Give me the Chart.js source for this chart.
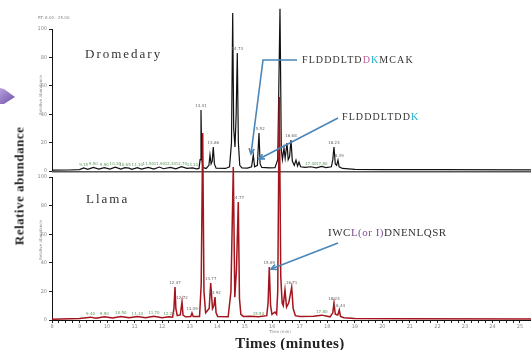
<!DOCTYPE html>
<html>
<head>
<meta charset="utf-8">
<script src="https://cdn.jsdelivr.net/npm/chart.js@4/dist/chart.umd.min.js"></script>
<style>
  html, body { margin: 0; padding: 0; background: #fff; }
  #wrap { position: relative; width: 531px; height: 350px; overflow: hidden; }
  canvas { position: absolute; left: 0; top: 0; }
  .t { position: absolute; white-space: nowrap; line-height: 1; font-family: "Liberation Serif", "DejaVu Serif", serif; color: #333; }
</style>
</head>
<body>
<div id="wrap">
  <canvas id="chrom" width="531" height="350"></canvas>
  <div class="t" style="left:85px;top:47px;font-size:13px;letter-spacing:2px;">Dromedary</div>
  <div class="t" style="left:86px;top:192px;font-size:13px;letter-spacing:2px;">Llama</div>
  <div class="t" style="left:302px;top:55px;font-size:10px;letter-spacing:1.1px;">FLDDDLTD<span style="color:#c2609a">D</span><span style="color:#22b2c8">K</span>MCAK</div>
  <div class="t" style="left:342px;top:112px;font-size:10px;letter-spacing:1.1px;">FLDDDLTDD<span style="color:#22b2c8">K</span></div>
  <div class="t" style="left:328px;top:227px;font-size:11px;letter-spacing:0.5px;">IWC<span style="color:#7d4f8f">L(or I)</span>DNENLQSR</div>
  <div class="t" style="left:19px;top:186px;font-size:13px;font-weight:bold;letter-spacing:0.5px;color:#222;transform:translate(-50%,-50%) rotate(-90deg);">Relative abundance</div>
  <div class="t" style="left:290px;top:343px;font-size:15px;font-weight:bold;letter-spacing:0.4px;color:#222;transform:translate(-50%,-50%);">Times (minutes)</div>
</div>
<script>
// retention time axis (minutes) and relative abundance axis
const timeTicks = [8, 9, 10, 11, 12, 13, 14, 15, 16, 17, 18, 19, 20, 21, 22, 23, 24, 25];
const abundTicks = [0, 10, 20, 30, 40, 50, 60, 70, 80, 90, 100];

// Dromedary trace (top, black)
const dromTime = [8.00, 8.60, 9.00, 9.15, 9.30, 9.50, 9.70, 9.90, 10.10, 10.30, 10.50, 10.65, 10.80, 10.90, 11.10, 11.25,
  11.50, 11.70, 11.90, 12.05, 12.30, 12.50,
  12.70, 12.90, 13.10, 13.25, 13.34, 13.38, 13.412, 13.44, 13.48, 13.60, 13.70, 13.739, 13.78, 13.82, 13.859, 13.90,
  13.96, 14.30, 14.45, 14.52, 14.564, 14.60, 14.647, 14.69, 14.731, 14.77, 14.82, 14.90, 15.10, 15.25, 15.312, 15.36,
  15.46, 15.519, 15.56, 15.62, 15.90, 16.10, 16.20, 16.282, 16.33, 16.37, 16.427, 16.47, 16.536, 16.58, 16.63, 16.681,
  16.73, 16.80, 16.863, 16.92, 16.972, 17.03, 17.20, 17.40, 17.60, 17.80, 17.95, 18.15, 18.20, 18.243, 18.29, 18.34,
  18.388, 18.43, 18.55, 19.00, 20.00, 22.00, 25.40];
const dromAbund = [0.6, 0.7, 1.0, 2.2, 1.2, 2.5, 1.3, 2.4, 1.4, 2.7, 1.3, 2.3, 2.0, 1.2, 2.4, 1.3,
  2.6, 1.4, 2.8, 1.6, 2.6, 1.5,
  3.0, 1.8, 2.2, 1.5, 1.8, 8, 43, 9, 2.5, 1.8, 4, 11.3, 5, 7, 16.9, 5,
  2, 1.8, 3, 20, 111.3, 30, 16.9, 40, 83.1, 20, 4, 2.2, 2, 3, 11.3, 3,
  4, 26.8, 5, 2.5, 2.2, 2.4, 8, 114.2, 15, 8, 16.2, 9, 19.7, 8, 10, 21.8,
  7, 4, 7.7, 3.5, 6.3, 3, 2.5, 3.0, 2.2, 3.2, 2.4, 3, 8, 16.9, 5, 4,
  7.7, 3, 1.8, 1.2, 1.0, 0.9, 0.8];

// Llama trace (bottom, red)
const llamaTime = [8.00, 9.00, 9.40, 9.60, 9.90, 10.20, 10.50, 10.80, 11.10, 11.40, 11.70, 12.00, 12.25, 12.38,
  12.43, 12.468, 12.50, 12.55, 12.66, 12.722, 12.76, 12.85, 13.04, 13.085, 13.13, 13.36, 13.42, 13.474, 13.52, 13.58,
  13.71, 13.765, 13.83, 13.88, 13.921, 13.96, 14.02, 14.40, 14.50, 14.586, 14.64, 14.70, 14.767, 14.81, 14.86, 14.95,
  15.20, 15.50, 15.80, 15.85, 15.893, 15.94, 15.99, 16.10, 16.16, 16.20, 16.256, 16.31, 16.36, 16.40, 16.463, 16.52,
  16.60, 16.707, 16.76, 16.84, 17.00, 17.50, 17.80, 18.10, 18.20, 18.243, 18.29, 18.38, 18.436, 18.48, 18.60, 19.00,
  21.00, 25.40];
const llamaAbund = [0.6, 1.0, 2.0, 1.2, 2.3, 1.4, 2.5, 1.5, 2.4, 1.6, 2.6, 1.6, 2.2, 2.0,
  8, 23, 8, 3, 3.5, 12.6, 3.5, 2.2, 2.5, 4.9, 2.5, 2.5, 25, 130.8, 20, 5,
  8, 25.9, 8, 10, 16.1, 5, 2.4, 2.2, 20, 107, 16, 35, 82.5, 15, 4, 2.5,
  2.6, 2.2, 3, 12, 37, 10, 4, 5.6, 4, 20, 156, 30, 12, 10, 21, 9,
  12, 23, 8, 3, 2.4, 2.6, 3.4, 2.2, 5, 11.9, 4, 3.5, 7, 2.5, 1.6, 1.1,
  0.8, 0.7];

// retention-time labels printed above peaks, and small ones on the baseline
const dromPeakLabels = [13.412, 13.859, 14.731, 15.519, 16.681, 18.243, 18.388];
const dromNoiseLabels = [9.15, 9.50, 9.90, 10.30, 10.65, 11.10, 11.50, 11.90, 12.30, 12.70, 13.10, 17.40, 17.80];
const llamaPeakLabels = [12.468, 12.722, 13.085, 13.765, 13.921, 14.767, 15.893, 16.707, 18.243, 18.436];
const llamaNoiseLabels = [9.40, 9.90, 10.50, 11.10, 11.70, 12.25, 15.50, 17.80];

const pts = (ts, vs) => ts.map((t, i) => ({x: t, y: vs[i]}));
const tiny = {size: 5, family: 'DejaVu Sans'};

function labelAt(ctx, xs, ys, times, vals, list, color, dy) {
  list.forEach(lt => {
    let best = 0;
    times.forEach((t, i) => { if (Math.abs(t - lt) < Math.abs(times[best] - lt)) best = i; });
    const px = xs.getPixelForValue(times[best]);
    const py = ys.getPixelForValue(vals[best]) - dy;
    ctx.fillStyle = color;
    ctx.fillText(times[best].toFixed(2), px, py);
  });
}

function arrow(ctx, path) {
  ctx.beginPath();
  ctx.moveTo(path[0][0], path[0][1]);
  path.slice(1).forEach(p => ctx.lineTo(p[0], p[1]));
  ctx.stroke();
  const [a, b] = path.slice(-2);
  const ang = Math.atan2(b[1] - a[1], b[0] - a[0]);
  ctx.beginPath();
  ctx.moveTo(b[0] - 6 * Math.cos(ang - 0.45), b[1] - 6 * Math.sin(ang - 0.45));
  ctx.lineTo(b[0], b[1]);
  ctx.lineTo(b[0] - 6 * Math.cos(ang + 0.45), b[1] - 6 * Math.sin(ang + 0.45));
  ctx.stroke();
}

const overlay = {
  id: 'overlay',
  beforeDatasetsDraw(chart) {
    const {ctx, scales: {x, yD, yL}} = chart;
    ctx.save();
    ctx.strokeStyle = '#111';
    ctx.lineWidth = 1;
    [yD, yL].forEach(s => {
      ctx.beginPath();
      ctx.moveTo(x.left + 0.5, s.getPixelForValue(100));
      ctx.lineTo(x.left + 0.5, s.getPixelForValue(0));
      ctx.stroke();
    });
    // panel divider
    ctx.strokeStyle = '#555';
    ctx.beginPath(); ctx.moveTo(x.left, yD.bottom + 0.5); ctx.lineTo(x.right, yD.bottom + 0.5); ctx.stroke();
    ctx.strokeStyle = '#aaa';
    ctx.beginPath(); ctx.moveTo(x.left, yD.bottom + 1.5); ctx.lineTo(x.right, yD.bottom + 1.5); ctx.stroke();
    ctx.restore();
  },
  afterDatasetsDraw(chart) {
    const {ctx, scales: {x, yD, yL}} = chart;
    ctx.save();
    ctx.font = '4px "DejaVu Sans"';
    ctx.textAlign = 'center';
    ctx.textBaseline = 'bottom';
    labelAt(ctx, x, yD, dromTime, dromAbund, dromPeakLabels, '#666', 2);
    labelAt(ctx, x, yD, dromTime, dromAbund, dromNoiseLabels, '#5a9a5a', 1);
    labelAt(ctx, x, yL, llamaTime, llamaAbund, llamaPeakLabels, '#666', 2);
    labelAt(ctx, x, yL, llamaTime, llamaAbund, llamaNoiseLabels, '#5a9a5a', 1);

    // small instrument texts
    ctx.fillStyle = '#888';
    ctx.textAlign = 'left';
    ctx.fillText('RT: 8.00 - 25.00', 38, 20);
    ctx.textAlign = 'center';
    ctx.fillText('Time (min)', 280, 334);
    [95, 240].forEach(cy => {
      ctx.save();
      ctx.translate(43, cy);
      ctx.rotate(-Math.PI / 2);
      ctx.fillText('Relative Abundance', 0, 0);
      ctx.restore();
    });

    // annotation arrows
    ctx.strokeStyle = '#4a86b8';
    ctx.lineWidth = 1.6;
    arrow(ctx, [[297, 60], [263, 60], [251, 154]]);
    arrow(ctx, [[338, 118], [259, 159]]);
    arrow(ctx, [[338, 243], [271, 269]]);

    // purple pointer on the left edge
    const g = ctx.createLinearGradient(0, 88, 15, 104);
    g.addColorStop(0, '#b7a2dc');
    g.addColorStop(1, '#6f4ea8');
    ctx.fillStyle = g;
    ctx.beginPath();
    ctx.moveTo(0, 88); ctx.lineTo(4, 89); ctx.lineTo(15, 97); ctx.lineTo(4, 104); ctx.lineTo(0, 104);
    ctx.closePath();
    ctx.fill();
    ctx.restore();
  }
};

const yScale = (weight, max) => ({
  position: 'left',
  stack: 'panels',
  stackWeight: weight,
  min: 0,
  max: max,
  afterBuildTicks: s => { s.ticks = abundTicks.map(v => ({value: v})); },
  afterFit: s => { s.width = 52; },
  ticks: {font: tiny, color: '#8a8a8a', padding: 2},
  grid: {drawOnChartArea: false, tickLength: 3, color: '#222'},
  border: {display: false}
});

new Chart(document.getElementById('chrom'), {
  type: 'line',
  data: {
    datasets: [
      {label: 'Llama', data: pts(llamaTime, llamaAbund), yAxisID: 'yL', order: 0, clip: false,
       borderColor: '#a3141c', borderWidth: 1.5, pointRadius: 0, tension: 0},
      {label: 'Dromedary', data: pts(dromTime, dromAbund), yAxisID: 'yD', order: 1,
       borderColor: '#111', borderWidth: 1.2, pointRadius: 0, tension: 0}
    ]
  },
  options: {
    responsive: false,
    animation: false,
    layout: {padding: {top: 8, left: 0, right: 0, bottom: 0}},
    plugins: {legend: {display: false}, tooltip: {enabled: false}},
    scales: {
      x: {
        type: 'linear',
        min: 8,
        max: 25.4,
        afterBuildTicks: s => {
          const out = [];
          timeTicks.forEach((t, i) => {
            out.push({value: t});
            if (i < timeTicks.length - 1) {
              for (let q = 1; q < 4; q++) out.push({value: t + q * (timeTicks[i + 1] - t) / 4});
            }
          });
          s.ticks = out;
        },
        afterFit: s => { s.height = 30; },
        ticks: {autoSkip: false, maxRotation: 0, font: tiny, color: '#8a8a8a', padding: 1,
                callback: v => timeTicks.includes(v) ? String(v) : ''},
        grid: {drawOnChartArea: false, tickLength: 3, color: '#222'},
        border: {color: '#111'}
      },
      // the stack is laid out in reverse order, so the lower panel comes first
      yL: yScale(149, 104.2),
      yD: yScale(163, 114.8)
    }
  },
  plugins: [overlay]
});
</script>
</body>
</html>
